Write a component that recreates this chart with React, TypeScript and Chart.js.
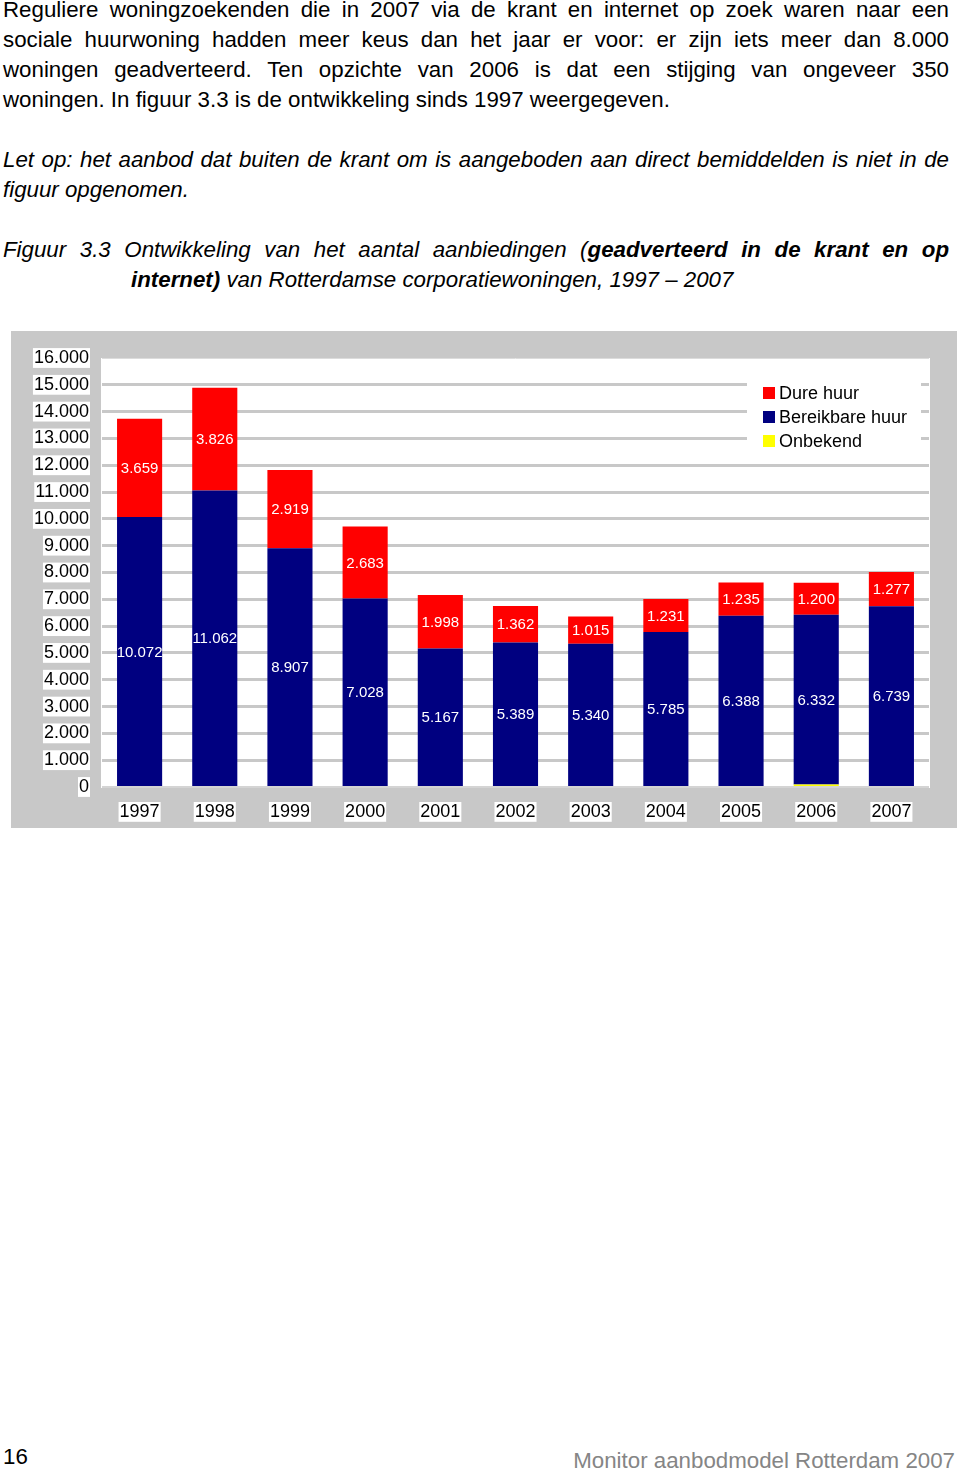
import React, { useEffect, useRef } from "react";
import { Chart, registerables } from "chart.js";

Chart.register(...registerables);

// ---- data ----
const years = ["1997", "1998", "1999", "2000", "2001", "2002", "2003", "2004", "2005", "2006", "2007"];
const onbekend = [0, 0, 0, 0, 0, 0, 0, 0, 0, 90, 0];
const bereikbareHuur = [10072, 11062, 8907, 7028, 5167, 5389, 5340, 5785, 6388, 6332, 6739];
const dureHuur = [3659, 3826, 2919, 2683, 1998, 1362, 1015, 1231, 1235, 1200, 1277];
const seriesNames = ["Onbekend", "Bereikbare huur", "Dure huur"];
const seriesColors = ["#ffff00", "#000080", "#ff0000"];
const yMax = 16000;
const yStep = 1000;

const FONT = '"Liberation Sans", Arial, Helvetica, sans-serif';
const GREY = "#c8c8c8";

const fmt = (v: number) => String(Math.round(v)).replace(/\B(?=(\d{3})+(?!\d))/g, ".");

const bgPlugin = {
  id: "bgPlugin",
  beforeDraw(chart: any) {
    const { ctx, width, height, chartArea } = chart;
    ctx.save();
    ctx.fillStyle = GREY;
    ctx.fillRect(0, 0, width, height);
    ctx.fillStyle = "#ffffff";
    ctx.fillRect(chartArea.left - 1, chartArea.top, chartArea.right - chartArea.left + 2, chartArea.bottom - chartArea.top + 1);
    ctx.restore();
  },
};

const legendPlugin = {
  id: "boxLegend",
  beforeDatasetsDraw(chart: any) {
    const { ctx } = chart;
    ctx.save();
    ctx.fillStyle = "#ffffff";
    ctx.fillRect(736, 45, 174, 76);
    const ds = chart.data.datasets.slice().reverse();
    ds.forEach((d: any, i: number) => {
      const cy = 62 + i * 24;
      ctx.fillStyle = d.backgroundColor;
      ctx.fillRect(752, cy - 6, 12, 12);
      ctx.fillStyle = "#000000";
      ctx.font = `18px ${FONT}`;
      ctx.textBaseline = "middle";
      ctx.textAlign = "left";
      ctx.fillText(d.label, 768, cy + 1);
    });
    ctx.restore();
  },
};

const valueLabelPlugin = {
  id: "valueLabels",
  afterDatasetsDraw(chart: any) {
    const { ctx } = chart;
    ctx.save();
    ctx.fillStyle = "#ffffff";
    ctx.font = `15px ${FONT}`;
    ctx.textAlign = "center";
    ctx.textBaseline = "middle";
    chart.data.datasets.forEach((d: any, di: number) => {
      if (d.label === "Onbekend") return;
      const meta = chart.getDatasetMeta(di);
      meta.data.forEach((bar: any, j: number) => {
        const v = d.data[j];
        if (!v) return;
        const p = bar.getProps(["x", "y", "base"], true);
        ctx.fillText(fmt(v), p.x, (p.y + p.base) / 2 + 1);
      });
    });
    ctx.restore();
  },
};

function BarChart() {
  const ref = useRef<HTMLCanvasElement | null>(null);
  useEffect(() => {
    if (!ref.current) return;
    Chart.defaults.font.family = FONT;
    const data = [onbekend, bereikbareHuur, dureHuur];
    const chart = new Chart(ref.current, {
      type: "bar",
      data: {
        labels: years,
        datasets: seriesNames.map((name, i) => ({
          label: name,
          data: data[i],
          backgroundColor: seriesColors[i],
          borderWidth: 0,
          barPercentage: 0.6,
          categoryPercentage: 1.0,
        })),
      },
      options: {
        responsive: false,
        animation: false,
        devicePixelRatio: 1,
        layout: { padding: { top: 27, right: 28, left: 0, bottom: 0 } },
        plugins: {
          legend: { display: false },
          tooltip: { enabled: false },
        },
        scales: {
          x: {
            stacked: true,
            grid: { display: false },
            border: { display: false },
            ticks: {
              color: "#000000",
              font: { size: 18, lineHeight: 1.1 },
              padding: 7,
              showLabelBackdrop: true,
              backdropColor: "#ffffff",
              backdropPadding: { top: 0, bottom: 0, left: 1, right: 1 } as any,
            },
            afterFit(scale: any) {
              scale.height = 41;
            },
          },
          y: {
            stacked: true,
            min: 0,
            max: yMax,
            border: { display: false },
            grid: {
              drawTicks: false,
              color: (c: any) => (c.tick.value === yMax ? "#dcdcdc" : c.tick.value === 0 ? "#d4d4d4" : GREY),
              lineWidth: (c: any) => (c.tick.value === yMax ? 1 : c.tick.value === 0 ? 2 : 3),
            },
            ticks: {
              stepSize: yStep,
              color: "#000000",
              font: { size: 18, lineHeight: 1.1 },
              padding: 13,
              callback: (v: any) => fmt(Number(v)),
              showLabelBackdrop: true,
              backdropColor: "#ffffff",
              backdropPadding: { top: 0, bottom: 0, left: 1, right: 1 } as any,
            },
            afterFit(scale: any) {
              scale.width = 91;
            },
          },
        },
      },
      plugins: [bgPlugin, legendPlugin, valueLabelPlugin],
    } as any);
    return () => chart.destroy();
  }, []);
  return (
    <canvas
      ref={ref}
      width={946}
      height={497}
      style={{ position: "absolute", left: 11, top: 331, width: 946, height: 497 }}
    />
  );
}

const textBase: React.CSSProperties = {
  position: "absolute",
  left: 3,
  width: 946,
  height: 30,
  lineHeight: "30px",
  fontSize: "22.3px",
  fontFamily: FONT,
  color: "#000",
};

function Line({ top, justify, italic, left, children }: any) {
  const style: React.CSSProperties = {
    ...textBase,
    top,
    textAlign: justify ? "justify" : "left",
    textAlignLast: justify ? "justify" : "left",
    fontStyle: italic ? "italic" : "normal",
  } as any;
  if (left !== undefined) {
    style.left = left;
    style.width = 949 - left;
  }
  return <div style={style}>{children}</div>;
}

export default function App() {
  return (
    <div style={{ position: "absolute", left: 0, top: 0, width: 960, height: 1472, overflow: "hidden", background: "#fff" }}>
      <Line top={-5} justify>
        Reguliere woningzoekenden die in 2007 via de krant en internet op zoek waren naar een
      </Line>
      <Line top={25} justify>
        sociale huurwoning hadden meer keus dan het jaar er voor: er zijn iets meer dan 8.000
      </Line>
      <Line top={55} justify>
        woningen geadverteerd. Ten opzichte van 2006 is dat een stijging van ongeveer 350
      </Line>
      <Line top={85}>woningen. In figuur 3.3 is de ontwikkeling sinds 1997 weergegeven.</Line>

      <Line top={145} justify italic>
        Let op: het aanbod dat buiten de krant om is aangeboden aan direct bemiddelden is niet in de
      </Line>
      <Line top={175} italic>
        figuur opgenomen.
      </Line>

      <Line top={235} justify italic>
        Figuur 3.3 Ontwikkeling van het aantal aanbiedingen (<b>geadverteerd in de krant en op</b>
      </Line>
      <Line top={265} italic left={131}>
        <b>internet)</b> van Rotterdamse corporatiewoningen, 1997 – 2007
      </Line>

      <BarChart />

      <div style={{ ...textBase, top: 1442, width: 100 }}>16</div>
      <div
        style={{
          ...textBase,
          left: undefined,
          right: 5,
          width: "auto",
          top: 1446,
          color: "#858585",
          textAlign: "right",
          whiteSpace: "nowrap",
        }}
      >
        Monitor aanbodmodel Rotterdam 2007
      </div>
    </div>
  );
}
